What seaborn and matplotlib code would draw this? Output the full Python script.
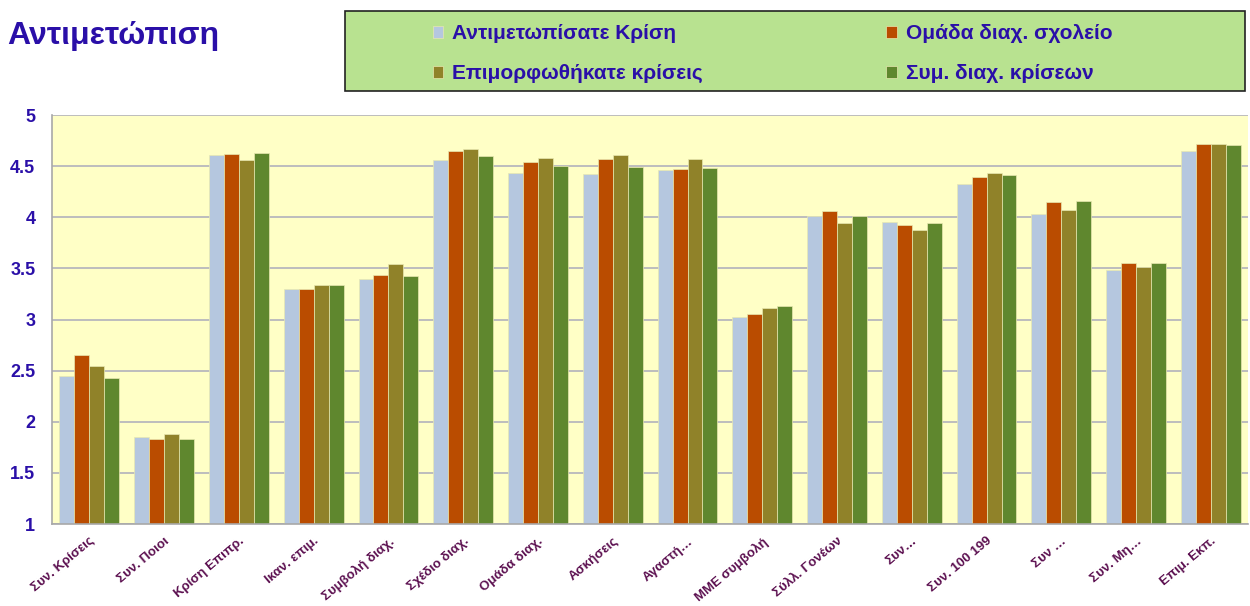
import pandas as pd
import numpy as np
import seaborn as sns
import matplotlib.pyplot as plt

## categories on the x axis
items = ["Συν. Κρίσεις", "Συν. Ποιοι", "Κρίση Επιπρ.", "Ικαν. επιμ.", "Συμβολή διαχ.",
         "Σχέδιο διαχ.", "Ομάδα διαχ.", "Ασκήσεις", "Αγαστή…", "ΜΜΕ συμβολή",
         "Σύλλ. Γονέων", "Συν…", "Συν. 100 199", "Συν …", "Συν. Μη…", "Επιμ. Εκπ."]

series = ["Αντιμετωπίσατε Κρίση", "Ομάδα διαχ. σχολείο",
          "Επιμορφωθήκατε κρίσεις", "Συμ. διαχ. κρίσεων"]

## values, one list per series
antimetopisate = [2.45, 1.85, 4.61, 3.30, 3.40, 4.56, 4.43, 4.42, 4.46, 3.02, 4.01, 3.95, 4.33, 4.03, 3.48, 4.65]
omada_sxoleio = [2.65, 1.83, 4.62, 3.30, 3.44, 4.65, 4.54, 4.57, 4.47, 3.05, 4.06, 3.92, 4.39, 4.15, 3.55, 4.72]
epimorfothikate = [2.55, 1.88, 4.56, 3.34, 3.54, 4.67, 4.58, 4.61, 4.57, 3.11, 3.94, 3.88, 4.43, 4.07, 3.51, 4.72]
sym_diax = [2.43, 1.83, 4.63, 3.34, 3.43, 4.60, 4.50, 4.49, 4.48, 3.13, 4.01, 3.94, 4.41, 4.16, 3.55, 4.71]

colors = ["#B5C7DF", "#BA4C00", "#908229", "#5F872E"]

df = pd.DataFrame({
    "item": items * 4,
    "series": np.repeat(series, len(items)),
    "value": antimetopisate + omada_sxoleio + epimorfothikate + sym_diax,
})

sns.set_style("white")
plt.rcParams["font.family"] = ["Liberation Sans", "DejaVu Sans"]

fig = plt.figure(figsize=(12.5, 6.06), dpi=100)
ax = fig.add_axes([0.0416, 0.1353, 0.957, 0.6749])
ax.set_facecolor("#FFFFC6")

sns.barplot(data=df, x="item", y="value", hue="series", palette=colors,
            saturation=1, width=0.8, edgecolor="#E8E8B0", linewidth=0.5, ax=ax)

handles, labels = ax.get_legend_handles_labels()
ax.get_legend().remove()

ax.set_ylim(1, 5)
ax.set_xlim(-0.5, len(items) - 0.5)
ax.set_yticks(np.arange(1, 5.01, 0.5))
ax.set_yticklabels(["1", "1.5", "2", "2.5", "3", "3.5", "4", "4.5", "5"])
ax.yaxis.grid(True, color="#BDBDBD", linewidth=1.4)
ax.set_axisbelow(True)
ax.set_xlabel("")
ax.set_ylabel("")

for s in ["top", "right"]:
    ax.spines[s].set_visible(False)
for s in ["left", "bottom"]:
    ax.spines[s].set_color("#A8A8A8")
    ax.spines[s].set_linewidth(1.2)

ax.tick_params(axis="y", labelsize=13, colors="#2A0FA8", length=5, color="#A8A8A8", pad=7)
for t in ax.get_yticklabels():
    t.set_fontweight("bold")

## excel style ticks between groups
ax.set_xticks(np.arange(-0.5, len(items), 1.0), minor=True)
ax.tick_params(axis="x", which="minor", length=6, color="#A8A8A8", width=1.2)
ax.tick_params(axis="x", which="major", length=0, pad=8)
ax.set_xticks(range(len(items)))
ax.set_xticklabels(items, rotation=40, ha="right", rotation_mode="anchor",
                   fontsize=9.5, fontweight="bold", color="#5C1050")

## title
fig.text(0.006, 0.94, "Αντιμετώπιση", fontsize=23, fontweight="bold",
         color="#2A0FA8", va="center", ha="left")

## legend box, filled row by row like the original
box = plt.Rectangle((0.276, 0.850), 0.72, 0.132, transform=fig.transFigure,
                    facecolor="#B8E290", edgecolor="#222222", linewidth=1.2)
fig.patches.append(box)
order = [0, 2, 1, 3]
leg = fig.legend([handles[i] for i in order], [labels[i] for i in order],
                 ncol=2, loc="upper left",
                 bbox_to_anchor=(433 / 1250, 0.96), frameon=False,
                 prop={"weight": "bold", "size": 15},
                 handlelength=0.5, handleheight=0.5, handletextpad=0.43,
                 columnspacing=8.8, labelspacing=1.0, borderpad=0,
                 borderaxespad=0)
for t in leg.get_texts():
    t.set_color("#2A0FA8")

plt.savefig("out.png", dpi=100)
